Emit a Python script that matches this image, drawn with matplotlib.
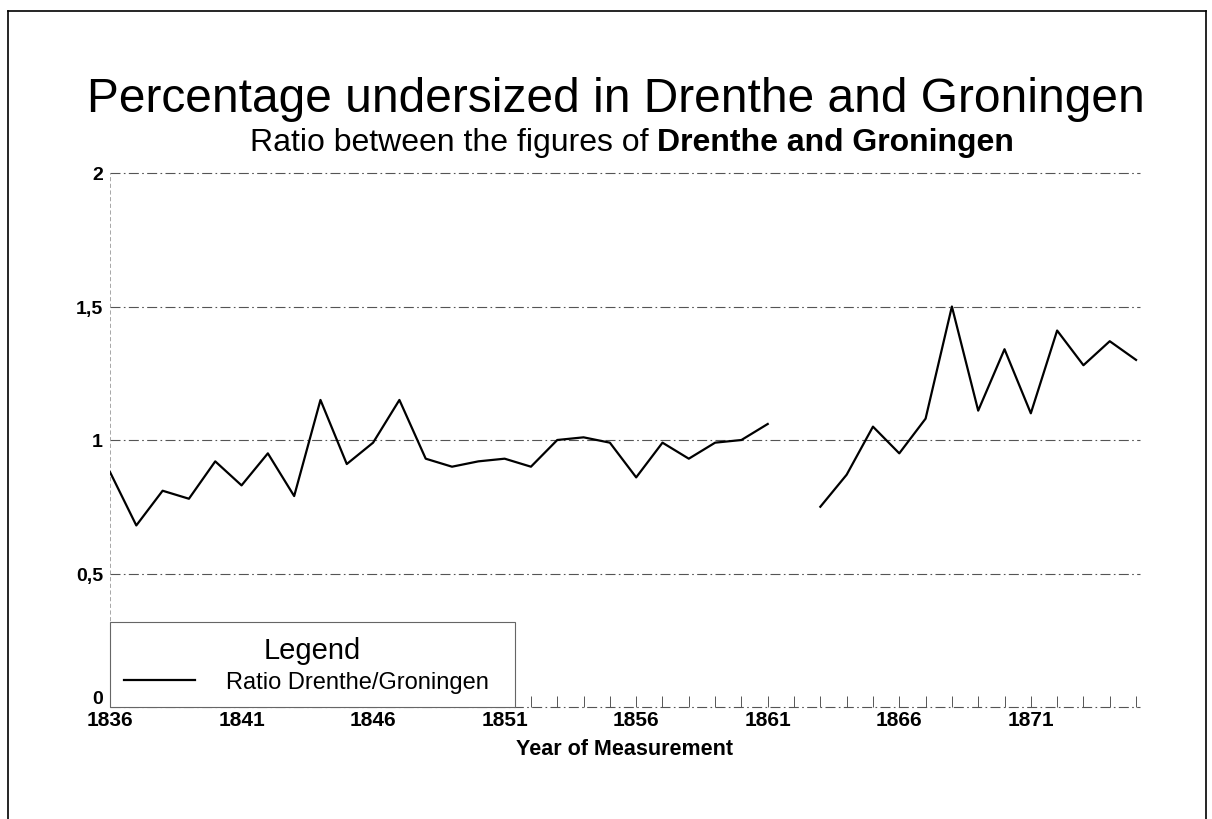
import numpy as np
import matplotlib
matplotlib.use("Agg")
import matplotlib.pyplot as plt
from matplotlib.lines import Line2D

plt.rcParams['font.family'] = ['Liberation Sans', 'DejaVu Sans']

# data, 1862 is missing in the source
years = list(range(1836, 1876))
ratio = [0.88, 0.68, 0.81, 0.78, 0.92, 0.83, 0.95, 0.79, 1.15, 0.91,
         0.99, 1.15, 0.93, 0.90, 0.92, 0.93, 0.90, 1.00, 1.01, 0.99,
         0.86, 0.99, 0.93, 0.99, 1.00, 1.06, np.nan, 0.75, 0.87, 1.05,
         0.95, 1.08, 1.50, 1.11, 1.34, 1.10, 1.41, 1.28, 1.37, 1.30]
tick_years = list(range(1836, 1876, 5))
y_ticks = [0, 0.5, 1, 1.5, 2]
y_labels = ['0', '0,5', '1', '1,5', '2']

W, H = 1212, 820
fig = plt.figure(figsize=(W / 100, H / 100), dpi=100)
ax = fig.add_axes([110 / W, (H - 708) / H, 1030 / W, 534 / H])

grid_ls = (0, (9, 3, 1.5, 3))
for v in y_ticks:
    ax.axhline(v, color='#555555', lw=0.8, ls=grid_ls, zorder=1, clip_on=False)

ax.plot(years, ratio, color='black', lw=1.6, zorder=3,
        label='Ratio Drenthe/Groningen')

ax.set_xlim(1836, 1875.15)
ax.set_ylim(0, 2)
for s in ['top', 'right', 'bottom']:
    ax.spines[s].set_visible(False)
ax.spines['left'].set_linestyle((0, (4, 4)))
ax.spines['left'].set_color('#999999')
ax.spines['left'].set_linewidth(0.6)

ax.set_xticks(tick_years)
ax.set_xticklabels([str(y) for y in tick_years], fontsize=15, fontweight='bold')
ax.set_xticks(years, minor=True)
ax.tick_params(axis='x', which='both', direction='in', length=8, width=0.7,
               color='#555555', pad=2)
ax.set_yticks(y_ticks)
ax.set_yticklabels(y_labels, fontsize=14, fontweight='bold')
ax.tick_params(axis='y', length=0, pad=5)
# the 0 sits just above the axis, clear of the 1836 label
ax.get_yticklabels()[0].set_verticalalignment('bottom')
ax.set_xlabel('Year of Measurement', fontsize=15.5, fontweight='bold', labelpad=7)

leg = ax.legend(loc='lower left', bbox_to_anchor=(0.0, 0.0, 0.393, 0.16),
                mode='expand', fontsize=17, title='Legend', title_fontsize=21,
                frameon=True, fancybox=False, handlelength=3.0,
                handletextpad=1.3, borderaxespad=0, borderpad=0.6,
                labelspacing=0.3)
leg.get_frame().set_edgecolor('#666666')
leg.get_frame().set_linewidth(0.8)
leg.get_frame().set_alpha(1)

# titles
fig.text(0.508, 1 - 112 / H, 'Percentage undersized in Drenthe and Groningen',
         ha='center', va='baseline', fontsize=34.5)
sub_y = 1 - 151 / H
t1 = fig.text(0, sub_y, 'Ratio between the figures of ', ha='left',
              va='baseline', fontsize=23)
t2 = fig.text(0, sub_y, 'Drenthe and Groningen', ha='left', va='baseline',
              fontsize=23, fontweight='bold')
r = fig.canvas.get_renderer()
w1 = t1.get_window_extent(r).width
w2 = t2.get_window_extent(r).width
x0 = 632 - (w1 + w2) / 2
t1.set_x(x0 / W)
t2.set_x((x0 + w1) / W)

# page frame
for xs, ys in [([8, 8], [0, H - 12]), ([8, 1206], [H - 12, H - 12]),
               ([1206, 1206], [H - 12, 0])]:
    fig.add_artist(Line2D(np.array(xs) / W, np.array(ys) / H,
                          transform=fig.transFigure, color='black', lw=1.2))

fig.savefig('out.png', dpi=100, facecolor='white')
